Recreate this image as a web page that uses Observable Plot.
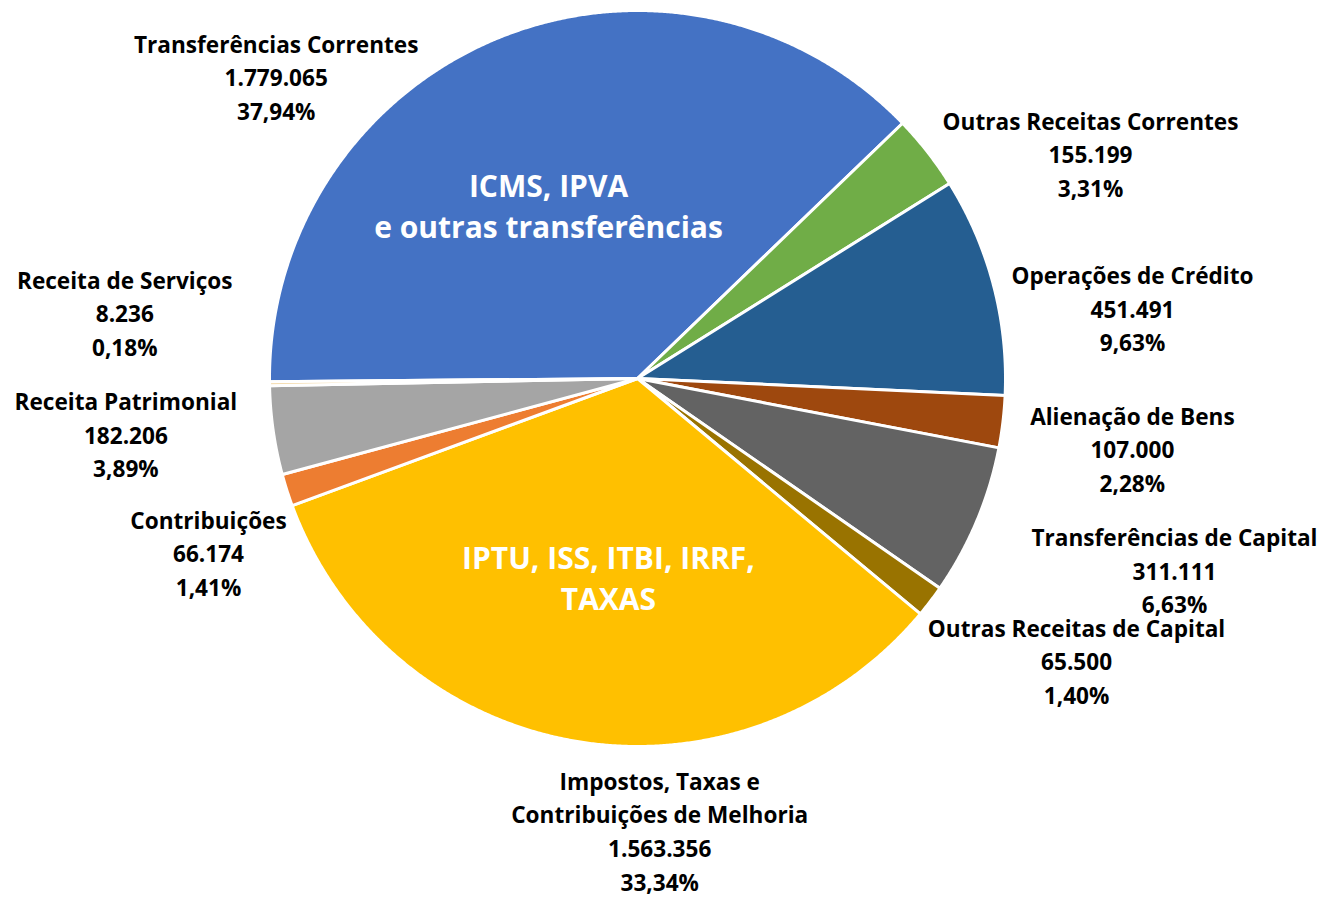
<!DOCTYPE html>
<html><head><meta charset="utf-8">
<script src="https://cdn.jsdelivr.net/npm/d3@7"></script>
<script src="https://cdn.jsdelivr.net/npm/@observablehq/plot@0.6"></script>
<style>html,body{margin:0;padding:0;background:#fff;overflow:hidden;}</style>
</head><body><div id="chart"></div>
<script>
// ---- data ----
const categories = [
  "Transferências Correntes",
  "Outras Receitas Correntes",
  "Operações de Crédito",
  "Alienação de Bens",
  "Transferências de Capital",
  "Outras Receitas de Capital",
  "Impostos, Taxas e\nContribuições de Melhoria",
  "Contribuições",
  "Receita Patrimonial",
  "Receita de Serviços"
];
const values = [1779065, 155199, 451491, 107000, 311111, 65500, 1563356, 66174, 182206, 8236];
const innerTexts = ["ICMS, IPVA\ne outras transferências", "", "", "", "", "", "IPTU, ISS, ITBI, IRRF,\nTAXAS", "", "", ""];

// ---- styles / layout ----
const colors = ["#4472C4", "#70AD47", "#255E91", "#9E480E", "#636363", "#997300", "#FFC000", "#ED7D31", "#A5A5A5", "#F4D9A8"];
const W = 1323, H = 897, cx = 637, cy = 378, R = 368;
const firstSliceAngle = 269.5; // degrees clockwise from 12 o'clock
// label placement (polar: angle deg clockwise from 12 o'clock, radius in pie radii)
const labelPolar = [[309.7,1.276],[63.8,1.372],[82.1,1.358],[98.3,1.359],[109.8,1.551],[122.9,1.421],[177.2,1.235],[247.7,1.260],[263.6,1.399],[277.1,1.404]];
const innerPolar = [[332.8,0.529],null,null,null,null,null,[188.3,0.547],null,null,null];

const total = d3.sum(values);
const fmtNum = v => d3.format(",")(v).replace(/,/g, ".");
const fmtPct = v => (v * 100).toFixed(2).replace(".", ",") + "%";

// build slice polygons from the values
const rad = d => d * Math.PI / 180;
const slices = [];
let acc = firstSliceAngle;
values.forEach((v, i) => {
  const span = v / total * 360;
  const a0 = acc, a1 = acc + span;
  slices.push({name: categories[i], x: 0, y: 0});
  const n = Math.max(2, Math.ceil(span / 0.25));
  for (let k = 0; k <= n; k++) {
    const a = rad(a0 + (a1 - a0) * k / n);
    slices.push({name: categories[i], x: Math.sin(a), y: Math.cos(a)});
  }
  slices.push({name: categories[i], x: 0, y: 0});
  acc = a1;
});

const labels = categories.map((c, i) => {
  const [a, r] = labelPolar[i];
  return {x: r * Math.sin(rad(a)), y: r * Math.cos(rad(a)),
          text: `${c}\n${fmtNum(values[i])}\n${fmtPct(values[i] / total)}`};
});
const inner = innerTexts.map((t, i) => t && innerPolar[i] ? {
  x: innerPolar[i][1] * Math.sin(rad(innerPolar[i][0])),
  y: innerPolar[i][1] * Math.cos(rad(innerPolar[i][0])), text: t} : null).filter(d => d);

const chart = Plot.plot({
  width: W, height: H, margin: 0,
  style: {fontFamily: "'Open Sans', 'Noto Sans', sans-serif", background: "#fff"},
  x: {domain: [-cx / R, (W - cx) / R], range: [0, W], axis: null},
  y: {domain: [-(H - cy) / R, cy / R], range: [H, 0], axis: null},
  color: {domain: categories, range: colors},
  marks: [
    Plot.line(slices, {x: "x", y: "y", z: "name", fill: "name", stroke: "#fff", strokeWidth: 3, strokeLinejoin: "round", curve: "linear"}),
    Plot.text(labels, {x: "x", y: "y", text: "text", fontSize: 22.6, fontWeight: "bold", lineHeight: 1.49, dy: -3, fill: "#000"}),
    Plot.text(inner, {x: "x", y: "y", text: "text", fontSize: 30, fontWeight: "bold", lineHeight: 1.35, dy: -1, fill: "#fff"})
  ]
});
document.getElementById("chart").appendChild(chart);
</script>
</body></html>
